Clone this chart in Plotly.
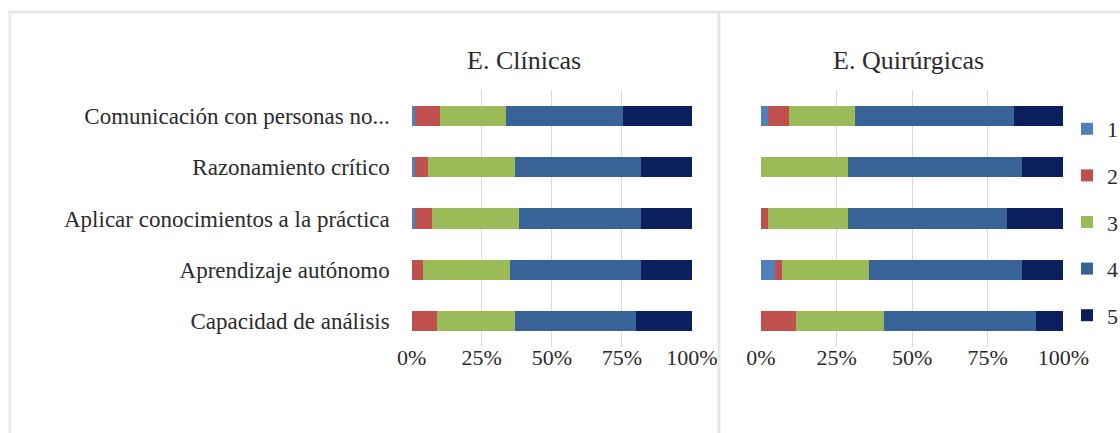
import plotly.graph_objects as go

categories = ["Comunicación con personas no...", "Razonamiento crítico",
              "Aplicar conocimientos a la práctica", "Aprendizaje autónomo",
              "Capacidad de análisis"]
series_names = ["1", "2", "3", "4", "5"]

clin_1 = [1.3, 1.3, 1.3, 0.0, 0.0]
clin_2 = [8.9, 4.4, 5.8, 4.2, 8.9]
clin_3 = [23.4, 31.2, 31.0, 31.0, 27.9]
clin_4 = [41.9, 44.8, 43.5, 46.5, 43.3]
clin_5 = [24.5, 18.3, 18.3, 18.3, 19.9]

quir_1 = [2.3, 0.0, 0.0, 4.6, 0.0]
quir_2 = [6.9, 0.0, 2.3, 2.3, 11.6]
quir_3 = [21.9, 28.8, 26.5, 28.9, 29.0]
quir_4 = [52.4, 57.4, 52.5, 50.4, 50.3]
quir_5 = [16.4, 13.8, 18.7, 13.8, 9.2]

x_ticks = [0, 25, 50, 75, 100]
x_ticktext = ["0%", "25%", "50%", "75%", "100%"]
titles = ["E. Clínicas", "E. Quirúrgicas"]

colors = ["#4f81bd", "#c0504d", "#9bbb59", "#386397", "#0b1f5e"]

W, H = 1120, 433
FONT = "Liberation Serif"
TXT = "#2b2b2b"

fig = go.Figure()
clin = [clin_1, clin_2, clin_3, clin_4, clin_5]
quir = [quir_1, quir_2, quir_3, quir_4, quir_5]
for i, name in enumerate(series_names):
    fig.add_trace(go.Bar(y=categories, x=clin[i], orientation="h", name=name,
                         marker=dict(color=colors[i], line=dict(width=0)),
                         legendgroup=name, showlegend=True,
                         xaxis="x", yaxis="y"))
for i, name in enumerate(series_names):
    fig.add_trace(go.Bar(y=categories, x=quir[i], orientation="h", name=name,
                         marker=dict(color=colors[i], line=dict(width=0)),
                         legendgroup=name, showlegend=False,
                         xaxis="x2", yaxis="y2"))

def px(v):
    return v / W

def py(v):
    return 1 - v / H

xaxis_common = dict(range=[0, 100], tickvals=x_ticks, ticktext=x_ticktext,
                    showgrid=True, gridcolor="#d9d9d9", gridwidth=1,
                    zeroline=False, showline=False, automargin=False,
                    tickfont=dict(family=FONT, size=22, color=TXT),
                    ticklabelstandoff=-5,
                    ticks="", fixedrange=True)
yaxis_common = dict(categoryorder="array", categoryarray=categories,
                    autorange="reversed", showgrid=False, zeroline=False,
                    showline=False, ticks="", fixedrange=True, automargin=False)

fig.update_layout(
    width=W, height=H,
    margin=dict(l=0, r=0, t=0, b=0, autoexpand=False),
    paper_bgcolor="white", plot_bgcolor="white",
    barmode="stack", barnorm="percent", bargap=0.61,
    xaxis=dict(domain=[px(411.7), px(692)], anchor="y", **xaxis_common),
    yaxis=dict(domain=[py(347), py(90)], anchor="x",
               tickfont=dict(family=FONT, size=23, color=TXT),
               ticklabelstandoff=21, **yaxis_common),
    xaxis2=dict(domain=[px(761), px(1063.3)], anchor="y2", **xaxis_common),
    yaxis2=dict(domain=[py(347), py(90)], anchor="x2", showticklabels=False,
                **yaxis_common),
    legend=dict(x=px(1067), y=py(108), xanchor="left", yanchor="top",
                traceorder="grouped", tracegroupgap=15,
                font=dict(family=FONT, size=22, color=TXT),
                bgcolor="rgba(0,0,0,0)", itemwidth=30),
    showlegend=True,
    annotations=[
        dict(text=titles[0], x=px(524), y=py(60), xref="paper", yref="paper",
             xanchor="center", yanchor="middle",
             showarrow=False, font=dict(family=FONT, size=26, color=TXT)),
        dict(text=titles[1], x=px(908), y=py(60), xref="paper", yref="paper",
             xanchor="center", yanchor="middle",
             showarrow=False, font=dict(family=FONT, size=26, color=TXT)),
    ],
    shapes=[
        dict(type="line", xref="paper", yref="paper", x0=px(8), x1=1,
             y0=py(12), y1=py(12), line=dict(color="#e6e6e6", width=3)),
        dict(type="line", xref="paper", yref="paper", x0=px(10), x1=px(10),
             y0=py(12), y1=0, line=dict(color="#ececec", width=3)),
        dict(type="line", xref="paper", yref="paper", x0=px(719), x1=px(719),
             y0=py(12), y1=0, line=dict(color="#e6e6e6", width=3)),
    ],
)

fig.write_html("out.html",
               config={"displayModeBar": False},
               post_script="document.body.style.margin='0px';"
                           "document.body.style.overflow='hidden';")
